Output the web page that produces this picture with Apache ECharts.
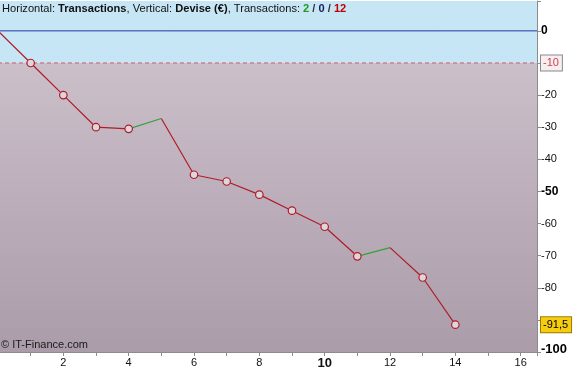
<!DOCTYPE html>
<html><head><meta charset="utf-8">
<script src="https://cdn.jsdelivr.net/npm/echarts@6/dist/echarts.min.js"></script>
<style>html,body{margin:0;padding:0;background:#fff}#c{width:578px;height:372px}</style>
</head><body><div id="c"></div>
<script>
// ---- data ----
const xValues = [0, 1, 2, 3, 4, 5, 6, 7, 8, 9, 10, 11, 12, 13, 14];
const yValues = [0, -10, -20, -30, -30.5, -27.3, -44.8, -46.9, -51, -56, -61, -70.2, -67.5, -76.8, -91.5];
const winSegments = [[4, 5], [11, 12]];          // x ranges of winning trades (green)
const markerX = [1, 2, 3, 4, 6, 7, 8, 9, 10, 11, 13, 14];
const xTickLabels = [2, 4, 6, 8, 10, 12, 14, 16];
const yTickLabels = [0, -20, -30, -40, -50, -60, -70, -80, -100];
const boldYLabels = [0, -50];
const zeroLevel = 0;
const stopLevel = -10;
const lastValue = -91.5;
const lastValueText = '-91,5';
const tradeCounts = [2, 0, 12];                   // wins / neutral / losses

// ---- chart ----
const FONT = '"Liberation Sans", Arial, sans-serif';
const X_MIN = 0, X_MAX = 16.5, Y_MIN = -100, Y_MAX = 9.3;
const chart = echarts.init(document.getElementById('c'), null, {renderer: 'canvas'});
const yOf = x => yValues[xValues.indexOf(x)];
const RED = '#b01c28', GREEN = '#38a038';

const isWin = (a, b) => winSegments.some(s => s[0] === a && s[1] === b);
const redRuns = [];
let run = [[xValues[0], yValues[0]]];
for (let i = 1; i < xValues.length; i++) {
  if (isWin(xValues[i - 1], xValues[i])) {
    redRuns.push(run);
    run = [[xValues[i], yValues[i]]];
  } else {
    run.push([xValues[i], yValues[i]]);
  }
}
redRuns.push(run);

const redSeries = redRuns.filter(r => r.length > 1).map(r => ({
  type: 'line', z: 3, silent: true, showSymbol: false, data: r,
  lineStyle: {color: RED, width: 1.2}
}));
const greenSeries = winSegments.map(seg => ({
  type: 'line', z: 3, silent: true, showSymbol: false,
  data: seg.map(x => [x, yOf(x)]),
  lineStyle: {color: GREEN, width: 1.2}
}));

function hLine(level, lineStyle) {
  return {
    type: 'line', z: 2, silent: true, showSymbol: false,
    data: [[X_MIN, level], [X_MAX, level]], lineStyle: lineStyle
  };
}
function levelLabel(level, label) {
  return {
    type: 'line', z: 2, silent: true, showSymbol: false, data: [],
    markLine: {
      silent: true, symbol: 'none', animation: false,
      lineStyle: {color: 'rgba(0,0,0,0)', width: 0}, label: label,
      data: [{yAxis: level}]
    }
  };
}

const TS = 11.1;
const option = {
  animation: false,
  textStyle: {fontFamily: FONT},
  grid: {left: -2, right: 41, top: 1, bottom: 20, containLabel: false, outerBoundsMode: 'none'},
  xAxis: {
    type: 'value', min: X_MIN, max: X_MAX, interval: 2, z: 1,
    axisLine: {show: true, onZero: false, lineStyle: {color: '#8c8c8c'}},
    axisTick: {show: true, length: 4, lineStyle: {color: '#8c8c8c'}},
    minorTick: {show: true, splitNumber: 2, length: 4, lineStyle: {color: '#8c8c8c'}},
    splitLine: {show: true, lineStyle: {color: 'rgba(105,105,125,0.33)', width: 1}},
    axisLabel: {
      margin: 5, fontSize: 11, color: '#111', fontFamily: FONT,
      formatter: v => xTickLabels.includes(v) ? (v === 10 ? '{b|10}' : String(v)) : '',
      rich: {b: {fontWeight: 'bold', fontSize: 13, color: '#111', fontFamily: FONT}}
    }
  },
  yAxis: {
    type: 'value', position: 'right', min: Y_MIN, max: Y_MAX, interval: 10, z: 1,
    axisLine: {show: true, onZero: false, lineStyle: {color: '#8c8c8c'}},
    axisTick: {show: true, length: 4, lineStyle: {color: '#8c8c8c'}},
    splitLine: {show: true, lineStyle: {color: 'rgba(105,105,125,0.33)', width: 1}},
    axisLabel: {
      margin: 4, fontSize: 11, color: '#111', fontFamily: FONT,
      formatter: v => {
        if (!yTickLabels.includes(v)) return '';
        if (v === -100) return '{bb|-100}';
        if (boldYLabels.includes(v)) return '{b|' + v + '}';
        return String(v);
      },
      rich: {
        b: {fontWeight: 'bold', fontSize: 12, color: '#000', fontFamily: FONT},
        bb: {fontWeight: 'bold', fontSize: 13, color: '#000', fontFamily: FONT, padding: [0, 0, 6, 0]}
      }
    }
  },
  graphic: [
    {
      type: 'text', left: 2, top: 3, z: 10, silent: true,
      style: {
        text: '{n|Horizontal: }{b|Transactions}{n|, Vertical: }{b|Devise (€)}{n|, Transactions: }{g|' +
              tradeCounts[0] + '}{s| / }{k|' + tradeCounts[1] + '}{s| / }{r|' + tradeCounts[2] + '}',
        rich: {
          n: {fontSize: TS, fontFamily: FONT, fill: '#111'},
          b: {fontSize: TS, fontFamily: FONT, fontWeight: 'bold', fill: '#111'},
          g: {fontSize: TS, fontFamily: FONT, fontWeight: 'bold', fill: '#1f9a1f'},
          s: {fontSize: TS, fontFamily: FONT, fontWeight: 'bold', fill: '#333'},
          k: {fontSize: TS, fontFamily: FONT, fontWeight: 'bold', fill: '#1a2060'},
          r: {fontSize: TS, fontFamily: FONT, fontWeight: 'bold', fill: '#c00000'}
        }
      }
    },
    {
      type: 'text', left: 1, top: 339, z: 10, silent: true,
      style: {text: '© IT-Finance.com', fontSize: 11, fontFamily: FONT, fill: '#1a1a1a'}
    }
  ],
  series: [
    {
      type: 'line', z: 0, silent: true, showSymbol: false,
      data: xValues.map((x, i) => [x, yValues[i]]),
      lineStyle: {opacity: 0},
      markArea: {
        silent: true,
        data: [
          [{yAxis: stopLevel, itemStyle: {color: '#c7e6f5'}}, {yAxis: Y_MAX}],
          [{yAxis: Y_MIN, itemStyle: {color: new echarts.graphic.LinearGradient(0, 0, 0, 1, [
            {offset: 0, color: '#cbbfca'}, {offset: 1, color: '#aa9ca9'}])}}, {yAxis: stopLevel}]
        ]
      }
    },
    hLine(zeroLevel, {color: '#2236a8', type: 'solid', width: 1}),
    hLine(stopLevel, {color: '#d05a6c', type: [4, 3], width: 1}),
    levelLabel(stopLevel,
      {show: true, position: 'end', distance: 4, formatter: String(stopLevel),
       color: '#d0404e', fontSize: 11, fontFamily: FONT, backgroundColor: '#f7eef0',
       borderColor: '#8a8a8a', borderWidth: 1, padding: [2, 3, 2, 2]}),
    levelLabel(lastValue,
      {show: true, position: 'end', distance: 4, formatter: lastValueText,
       color: '#000', fontSize: 11, fontFamily: FONT, backgroundColor: '#f5cc10',
       borderColor: '#9a7d00', borderWidth: 1, padding: [2, 3, 2, 2]}),
    ...redSeries,
    ...greenSeries,
    {
      type: 'line', z: 4, silent: true, data: markerX.map(x => [x, yOf(x)]),
      lineStyle: {opacity: 0}, showSymbol: true, symbol: 'circle', symbolSize: 7.5,
      itemStyle: {color: '#ddd6dc', borderColor: RED, borderWidth: 1.2}
    }
  ]
};
chart.setOption(option);
</script></body></html>
